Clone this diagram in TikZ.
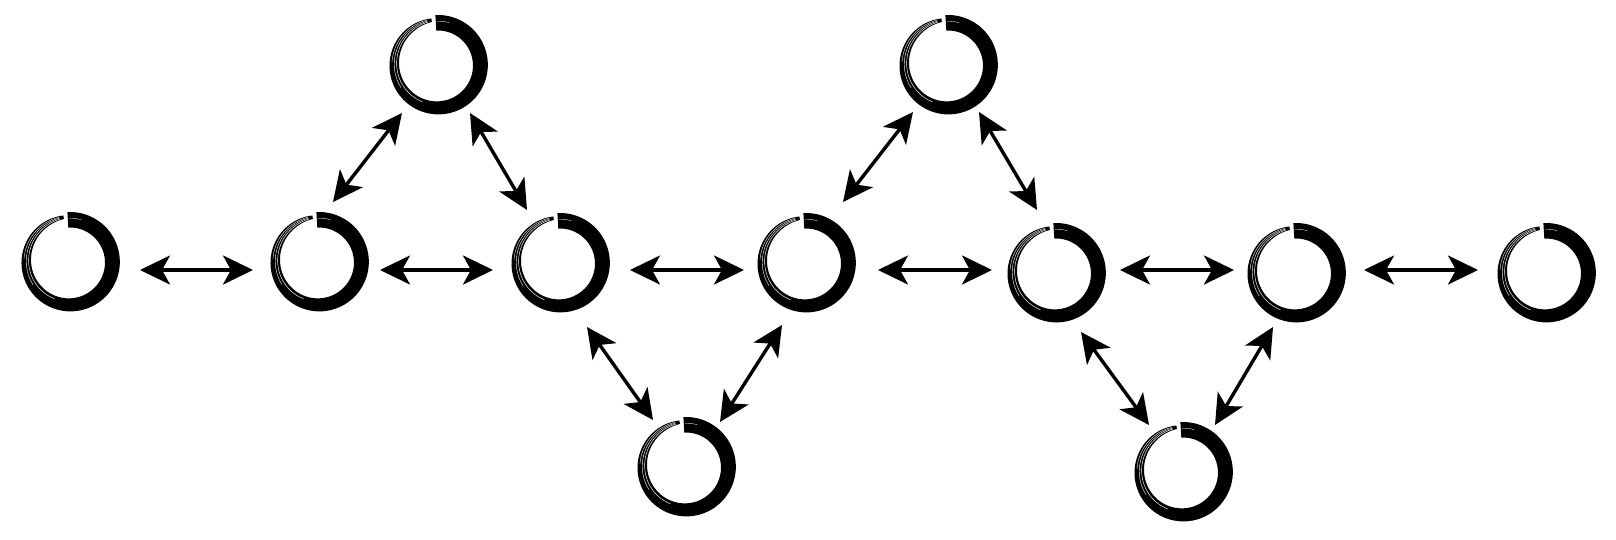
\documentclass[tikz,border=0pt]{standalone}
\usetikzlibrary{arrows.meta,calc}
\begin{document}
\begin{tikzpicture}[x=1pt,y=-1pt,
  declare function={ew(\t)=15.5-9*\t*\t-3*\t*\t*\t*\t*\t*\t; ero(\t)=50-0.25*(15.5-ew(\t)); eri(\t)=ero(\t)-ew(\t); ea(\t)=-93+355*\t;},
  spot/.style={circle, minimum size=98pt, inner sep=0pt},
  tipsty/.tip={Stealth[length=30pt,width=29pt,inset=8pt]},
  biarrow/.style={line width=3.4pt, tipsty-tipsty},
  enso/.pic={
    \fill[black] plot[domain=0:1,samples=90,variable=\t] ({ero(\t)*cos(ea(\t))},{ero(\t)*sin(ea(\t))})
      -- plot[domain=1:0,samples=90,variable=\t] ({eri(\t)*cos(ea(\t))},{eri(\t)*sin(ea(\t))}) -- cycle;
    \draw[white,line width=0.45pt] plot[domain=0.58:0.985,samples=40,variable=\t]
      ({(eri(\t)+0.25*ew(\t))*cos(ea(\t))},{(eri(\t)+0.25*ew(\t))*sin(ea(\t))});
    \draw[white,line width=0.4pt] plot[domain=0.68:0.985,samples=40,variable=\t]
      ({(eri(\t)+0.5*ew(\t))*cos(ea(\t))},{(eri(\t)+0.5*ew(\t))*sin(ea(\t))});
    \draw[white,line width=0.35pt] plot[domain=0.78:0.985,samples=30,variable=\t]
      ({(eri(\t)+0.75*ew(\t))*cos(ea(\t))},{(eri(\t)+0.75*ew(\t))*sin(ea(\t))});
    \draw[white,line width=0.35pt] plot[domain=0.005:0.05,samples=20,variable=\t]
      ({(eri(\t)+0.6*ew(\t))*cos(ea(\t))},{(eri(\t)+0.6*ew(\t))*sin(ea(\t))});
  }
]
\useasboundingbox (0,0) rectangle (1616,539);
% nodes
\node[spot] (A1) at (70,262) {};
\node[spot] (A2) at (319,262) {};
\node[spot] (A3) at (560,263) {};
\node[spot] (A4) at (806,263) {};
\node[spot] (A5) at (1056,273) {};
\node[spot] (A6) at (1296,273) {};
\node[spot] (A7) at (1546,273) {};
\node[spot] (T1) at (438,65) {};
\node[spot] (T2) at (948,65) {};
\node[spot] (B1) at (686,467) {};
\node[spot] (B2) at (1183,472) {};
\foreach \n in {A1,A2,A3,A4,A5,A6,A7,T1,T2,B1,B2} \pic at (\n) {enso};
% horizontal connectors
\draw[biarrow] ($(A1)+(70,8)$) -- ($(A2)+(-66,8)$);
\draw[biarrow] ($(A2)+(61,8)$) -- ($(A3)+(-67,7)$);
\draw[biarrow] ($(A3)+(70,7)$) -- ($(A4)+(-62,7)$);
\draw[biarrow] ($(A4)+(72,7)$) -- ($(A5)+(-64,-3)$);
\draw[biarrow] ($(A5)+(64,-3)$) -- ($(A6)+(-62,-3)$);
\draw[biarrow] ($(A6)+(68,-3)$) -- ($(A7)+(-68,-3)$);
% diagonal connectors
\draw[biarrow] ($(A2)+(14,-60)$) -- ($(T1)+(-36,48)$);
\draw[biarrow] ($(T1)+(32,48)$) -- ($(A3)+(-33,-53)$);
\draw[biarrow] ($(A3)+(27,64)$) -- ($(B1)+(-33,-47)$);
\draw[biarrow] ($(B1)+(34,-45)$) -- ($(A4)+(-24,62)$);
\draw[biarrow] ($(A4)+(37,-61)$) -- ($(T2)+(-35,47)$);
\draw[biarrow] ($(T2)+(31,47)$) -- ($(A5)+(-19,-63)$);
\draw[biarrow] ($(A5)+(25,59)$) -- ($(B2)+(-34,-47)$);
\draw[biarrow] ($(B2)+(32,-47)$) -- ($(A6)+(-23,54)$);
\end{tikzpicture}
\end{document}
